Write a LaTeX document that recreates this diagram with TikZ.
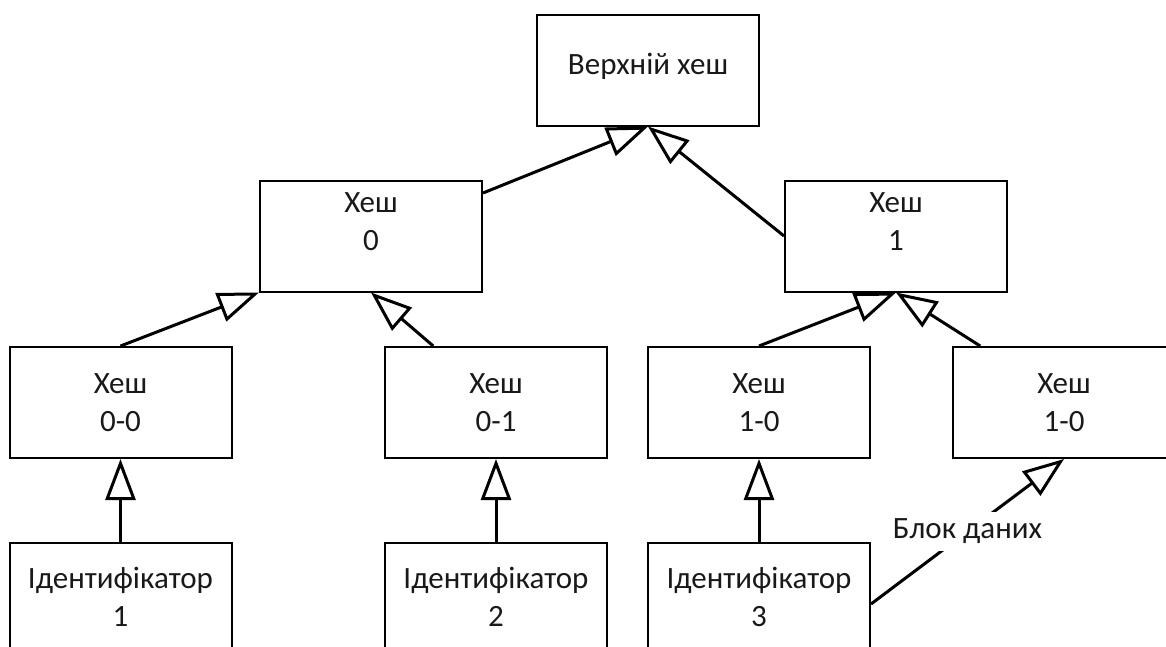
\documentclass[tikz,border=0pt]{standalone}
\usepackage{fontspec}
\setmainfont{Carlito}
\usetikzlibrary{arrows.meta}
\begin{document}
\begin{tikzpicture}[x=1pt,y=-1pt,
  box/.style={draw=black, line width=2pt, minimum width=222pt, minimum height=111pt, inner sep=0pt},
  idbox/.style={box, minimum height=122pt},
  txt/.style={align=center, font=\fontsize{31}{38}\selectfont, inner sep=0pt, text=black!90},
  link/.style={line width=3pt, -{Triangle[open, length=41pt, width=30pt]}},
]
\useasboundingbox (0,0) rectangle (1166,646);
\clip (0,0) rectangle (1166,646);

% root of the tree
\node[box] (top) at (648,70) {};
\node[txt] (topt) at (648,66) {Верхній хеш};

% second level
\node[box] (h0) at (371,236) {};
\node[txt] (h0t) at (371,222) {Хеш\\0};
\node[box] (h1) at (896,236) {};
\node[txt] (h1t) at (896,222) {Хеш\\1};

% third level
\node[box,txt,inner sep=0pt] (h00) at (120.5,402.5) {Хеш\\0-0};
\node[box,txt,inner sep=0pt] (h01) at (496,402.5) {Хеш\\0-1};
\node[box,txt,inner sep=0pt] (h10) at (759,402.5) {Хеш\\1-0};
\node[box,txt,inner sep=0pt] (h11) at (1064,402.5) {Хеш\\1-0};

% leaves
\node[idbox] (id1) at (120.5,604) {};
\node[txt] (id1t) at (120.5,597) {Ідентифікатор\\1};
\node[idbox] (id2) at (496,604) {};
\node[txt] (id2t) at (496,597) {Ідентифікатор\\2};
\node[idbox] (id3) at (759,604) {};
\node[txt] (id3t) at (759,597) {Ідентифікатор\\3};

% connectors
\draw[link] (h0.21.6) -- (top.south);
\draw[link] (h1.west) -- (top.south);
\draw[link] (h00.north) -- (h0.south west);
\draw[link] (h01.138.6) -- (h0.south);
\draw[link] (h10.north) -- (h1.south);
\draw[link] (h11.146.9) -- (h1.south);
\draw[link] (id1.north) -- (h00.south);
\draw[link] (id2.north) -- (h01.south);
\draw[link] (id3.north) -- (h10.south);
\draw[link] (id3.east) -- node[txt, fill=white, inner sep=7pt] (blk) {Блок даних} (h11.south);
\end{tikzpicture}
\end{document}
